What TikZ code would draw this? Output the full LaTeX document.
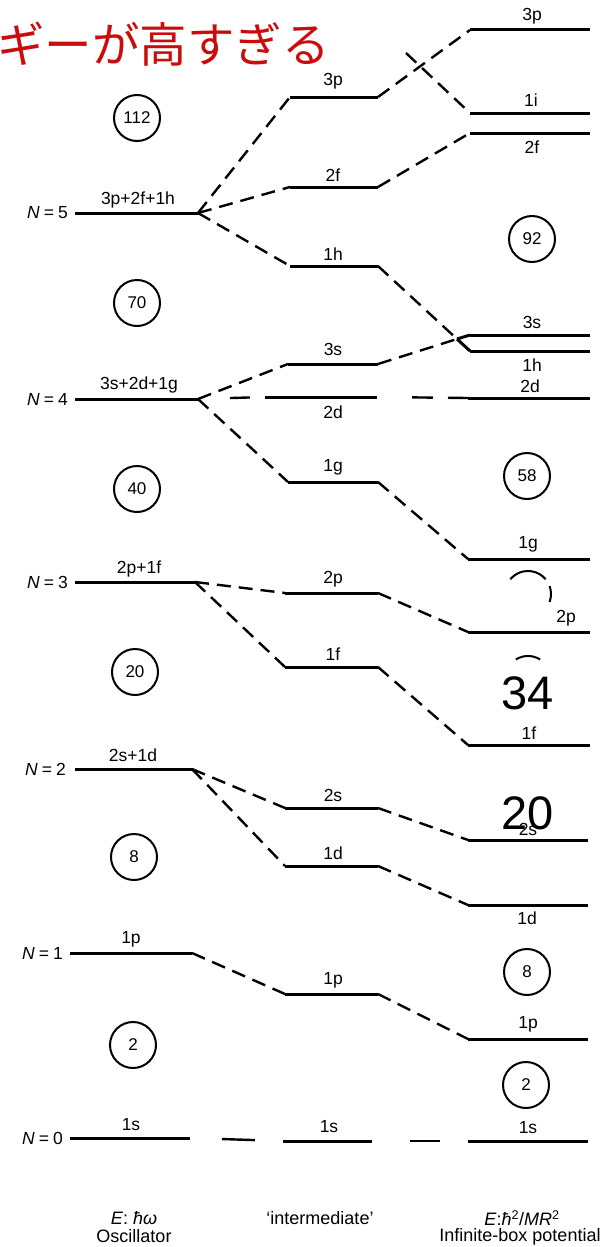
\documentclass[tikz,border=0pt]{standalone}
\usepackage{fontspec}
\setmainfont{Liberation Sans}
\newfontfamily\cjkfont{Noto Sans CJK JP}
\definecolor{jred}{RGB}{204,12,12}
\newcommand\labf{\fontsize{17.5}{19}\selectfont}
\newcommand\numf{\fontsize{17}{19}\selectfont}
\newcommand\botf{\fontsize{18}{20}\selectfont}
\newcommand\bigf{\fontsize{47}{50}\selectfont}
\newcommand\Nlab[1]{\textit{N}\hspace{4pt}=\hspace{4pt}#1}
\newcommand\lev[4]{%
  \coordinate (#1-L) at (#2,#4);
  \coordinate (#1-R) at (#3,#4);
  \draw[lvl] (#1-L) -- (#1-R);}
\tikzset{
  lvl/.style={line width=3pt},
  conn/.style={line width=2.4pt, dash pattern=on 14pt off 8pt},
  lab/.style={font=\labf, inner sep=0pt},
  magic/.style={draw, circle, line width=2pt, minimum size=46pt, inner sep=0pt, font=\numf},
  bot/.style={font=\botf, inner sep=0pt, align=center},
  partc/.style={line width=2pt},
}
\begin{document}
\begin{tikzpicture}[x=1pt,y=-1pt]
\useasboundingbox (0,0) rectangle (606,1247);
% title fragment
\node[anchor=west, inner sep=0pt, text=jred, font=\cjkfont\fontsize{47.5}{50}\selectfont] (title) at (-3,44) {ギーが高すぎる};
% oscillator levels
\lev{o5}{75}{198}{213}
\lev{o4}{75}{198}{399}
\lev{o3}{75}{195}{582}
\lev{o2}{75}{192}{769}
\lev{o1}{70}{192}{953}
\lev{o0}{70}{190}{1138}
% intermediate levels
\lev{m3p}{290}{378}{97}
\lev{m2f}{290}{378}{187}
\lev{m1h}{290}{378}{266}
\lev{m3s}{288}{378}{364}
\lev{m2d}{265}{377}{397}
\lev{m1g}{288}{378}{482}
\lev{m2p}{285}{378}{593}
\lev{m1f}{285}{378}{667}
\lev{m2s}{285}{378}{808}
\lev{m1d}{285}{378}{866}
\lev{m1p}{285}{378}{994}
\lev{m1s}{283}{372}{1141}
% infinite box levels
\lev{b3p}{470}{590}{30}
\lev{b1i}{470}{590}{113}
\lev{b2f}{470}{590}{133}
\lev{b3s}{470}{590}{335}
\lev{b1h}{470}{590}{351}
\lev{b2d}{468}{590}{398}
\lev{b1g}{468}{590}{559}
\lev{b2p}{468}{590}{632}
\lev{b1f}{468}{590}{745}
\lev{b2s}{468}{588}{840}
\lev{b1d}{468}{588}{905}
\lev{b1p}{468}{588}{1039}
\lev{b1s}{468}{588}{1141}
\coordinate (bsh) at (457,339);
\draw[lvl] (bsh) -- (b3s-L);
\draw[lvl] (bsh) -- (b1h-L);
\coordinate (x1i) at (406,53);
% connectors
\draw[conn] (o5-R) -- (m3p-L);
\draw[conn] (o5-R) -- (m2f-L);
\draw[conn] (o5-R) -- (m1h-L);
\draw[conn] (m3p-R) -- (b3p-L);
\draw[conn] (x1i) -- (b1i-L);
\draw[conn] (m2f-R) -- (b2f-L);
\draw[conn] (m1h-R) -- (bsh);
\draw[conn] (m3s-R) -- (bsh);
\draw[conn] (o4-R) -- (m3s-L);
\draw[line width=2.4pt, dash pattern=on 0pt off 32pt on 20pt off 60pt] (o4-R) -- (m2d-L);
\draw[line width=2.4pt, dash pattern=on 0pt off 35pt on 21pt off 15pt on 60pt] (m2d-R) -- (b2d-L);
\draw[conn] (o4-R) -- (m1g-L);
\draw[conn] (m1g-R) -- (b1g-L);
\draw[conn] (o3-R) -- (m2p-L);
\draw[conn] (o3-R) -- (m1f-L);
\draw[conn] (m2p-R) -- (b2p-L);
\draw[conn] (m1f-R) -- (b1f-L);
\draw[conn] (o2-R) -- (m2s-L);
\draw[conn] (o2-R) -- (m1d-L);
\draw[conn] (m2s-R) -- (b2s-L);
\draw[conn] (m1d-R) -- (b1d-L);
\draw[conn] (o1-R) -- (m1p-L);
\draw[conn] (m1p-R) -- (b1p-L);
\draw[line width=2.4pt, dash pattern=on 0pt off 32pt on 33pt off 60pt] (o0-R) -- (m1s-L);
\draw[line width=2.4pt, dash pattern=on 0pt off 38pt on 30pt off 60pt] (m1s-R) -- (b1s-L);
% N labels
\node[lab, anchor=east] (n5) at (68,213) {\Nlab{5}};
\node[lab, anchor=east] (n4) at (68,399) {\Nlab{4}};
\node[lab, anchor=east] (n3) at (68,582) {\Nlab{3}};
\node[lab, anchor=east] (n2) at (66,769) {\Nlab{2}};
\node[lab, anchor=east] (n1) at (63,953) {\Nlab{1}};
\node[lab, anchor=east] (n0) at (63,1138) {\Nlab{0}};
% oscillator shell labels
\node[lab] (lo5) at (138,200) {3p+2f+1h};
\node[lab] (lo4) at (139,385) {3s+2d+1g};
\node[lab] (lo3) at (139,569) {2p+1f};
\node[lab] (lo2) at (133,755) {2s+1d};
\node[lab] (lo1) at (131,939) {1p};
\node[lab] (lo0) at (131,1125) {1s};
% intermediate labels
\node[lab] (lm3p) at (333,81) {3p};
\node[lab] (lm2f) at (333,175) {2f};
\node[lab] (lm1h) at (333,254) {1h};
\node[lab] (lm3s) at (333,349) {3s};
\node[lab] (lm2d) at (333,412) {2d};
\node[lab] (lm1g) at (333,467) {1g};
\node[lab] (lm2p) at (333,579) {2p};
\node[lab] (lm1f) at (333,654) {1f};
\node[lab] (lm2s) at (333,795) {2s};
\node[lab] (lm1d) at (333,853) {1d};
\node[lab] (lm1p) at (333,980) {1p};
\node[lab] (lm1s) at (329,1127) {1s};
% infinite box labels
\node[lab] (lb3p) at (532,16) {3p};
\node[lab] (lb1i) at (531,100) {1i};
\node[lab] (lb2f) at (532,147) {2f};
\node[lab] (lb3s) at (532,322) {3s};
\node[lab] (lb1h) at (532,365) {1h};
\node[lab] (lb2d) at (530,386) {2d};
\node[lab] (lb1g) at (528,544) {1g};
\node[lab] (lb2p) at (566,618) {2p};
\node[lab] (lb1f) at (529,733) {1f};
\node[lab] (lb2s) at (528,829) {2s};
\node[lab] (lb1d) at (527,918) {1d};
\node[lab] (lb1p) at (528,1024) {1p};
\node[lab] (lb1s) at (528,1128) {1s};
% magic numbers
\node[magic] (c112) at (137,118) {112};
\node[magic] (c70) at (137,303) {70};
\node[magic] (c40) at (137,489) {40};
\node[magic] (c20) at (135,672) {20};
\node[magic] (c8) at (134,857) {8};
\node[magic] (c2) at (133,1045) {2};
\node[magic] (d92) at (532,239) {92};
\node[magic] (d58) at (527,476) {58};
\node[magic] (d8) at (527,972) {8};
\node[magic] (d2) at (526,1085) {2};
% partial circles (remnants)
\draw[partc] (528,594) ++(-140:23) arc[start angle=-140, end angle=-40, radius=23];
\draw[partc] (528,594) ++(-20:23) arc[start angle=-20, end angle=20, radius=23];
\draw[partc] (528,679) ++(-122:23) arc[start angle=-122, end angle=-58, radius=23];
% overlaid big numbers
\node[font=\bigf, inner sep=0pt] (t34) at (528,693) {34};
\node[font=\bigf, inner sep=0pt] (t20) at (528,813) {20};
% bottom captions
\node[bot] (cap1) at (134,1218) {\textit{E}: \textit{ħω}};
\node[bot] (cap1b) at (134,1236) {Oscillator};
\node[bot] (cap2) at (320,1218) {‘intermediate’};
\node[bot] (cap3) at (522,1218) {\textit{E}:\textit{ħ}\textsuperscript{2}/\textit{MR}\textsuperscript{2}};
\node[bot] (cap3b) at (520,1237) {Infinite-box potential};
\end{tikzpicture}
\end{document}
